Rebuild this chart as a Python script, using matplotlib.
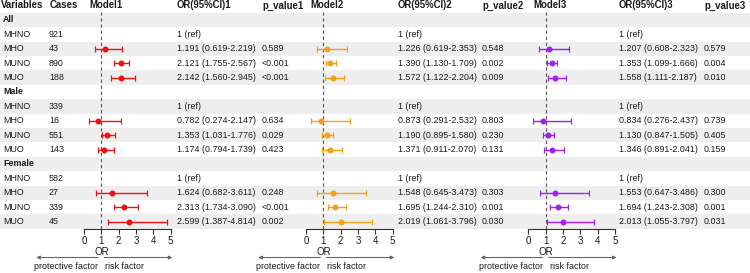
import numpy as np
import matplotlib.pyplot as plt
from matplotlib.transforms import blended_transform_factory

plt.rcParams['font.family'] = ['Liberation Sans', 'DejaVu Sans']

groups = ['All', 'Male', 'Female']
subgroups = ['MHNO', 'MHO', 'MUNO', 'MUO']
cases = [[921, 43, 890, 188], [339, 16, 551, 143], [582, 27, 339, 45]]

# odds ratios per model, group-major; first of each group is the reference
or1 = [[np.nan, 1.191, 2.121, 2.142], [np.nan, 0.782, 1.353, 1.174], [np.nan, 1.624, 2.313, 2.599]]
lo1 = [[np.nan, 0.619, 1.755, 1.560], [np.nan, 0.274, 1.031, 0.794], [np.nan, 0.682, 1.734, 1.387]]
hi1 = [[np.nan, 2.219, 2.567, 2.945], [np.nan, 2.147, 1.776, 1.739], [np.nan, 3.611, 3.090, 4.814]]
p1 = [['', '0.589', '<0.001', '<0.001'], ['', '0.634', '0.029', '0.423'], ['', '0.248', '<0.001', '0.002']]

or2 = [[np.nan, 1.226, 1.390, 1.572], [np.nan, 0.873, 1.190, 1.371], [np.nan, 1.548, 1.695, 2.019]]
lo2 = [[np.nan, 0.619, 1.130, 1.122], [np.nan, 0.291, 0.895, 0.911], [np.nan, 0.645, 1.244, 1.061]]
hi2 = [[np.nan, 2.353, 1.709, 2.204], [np.nan, 2.532, 1.580, 2.070], [np.nan, 3.473, 2.310, 3.796]]
p2 = [['', '0.548', '0.002', '0.009'], ['', '0.803', '0.230', '0.131'], ['', '0.303', '0.001', '0.030']]

or3 = [[np.nan, 1.207, 1.353, 1.558], [np.nan, 0.834, 1.130, 1.346], [np.nan, 1.553, 1.694, 2.013]]
lo3 = [[np.nan, 0.608, 1.099, 1.111], [np.nan, 0.276, 0.847, 0.891], [np.nan, 0.647, 1.243, 1.055]]
hi3 = [[np.nan, 2.323, 1.666, 2.187], [np.nan, 2.437, 1.505, 2.041], [np.nan, 3.486, 2.308, 3.797]]
p3 = [['', '0.579', '0.004', '0.010'], ['', '0.739', '0.405', '0.159'], ['', '0.300', '0.001', '0.031']]

models = [('Model1', or1, lo1, hi1, p1, '#EE1111'),
          ('Model2', or2, lo2, hi2, p2, '#F5A01A'),
          ('Model3', or3, lo3, hi3, p3, '#A020F0')]

W, H = 750, 273
fig = plt.figure(figsize=(W / 100, H / 100), dpi=100)
ax = fig.add_axes([0, 0, 1, 1])
ax.set_xlim(0, W)
ax.set_ylim(H, 0)
ax.axis('off')

fs = 6.4
hfs = 6.9
tc = '#1a1a1a'
row0, rh = 20, 14.4
top, axis_y = 12, 229

# layout of columns (pixels)
panel_left = [84, 306, 528.3]
panel_w = 86.7
or_x = [177, 398, 619]
p_x = [262, 482, 704]
head_x = [89, 310, 533]

# stripes
n_rows = len(groups) * (len(subgroups) + 1)
for i in range(0, n_rows, 2):
    yc = row0 + rh * i
    ax.axhspan(yc - rh / 2, yc + rh / 2, color='#eeeeee', zorder=0, lw=0)

# header
hy = 5.5
ax.text(1, hy, 'Variables', fontsize=hfs, fontweight='bold', va='center', color=tc)
ax.text(50, hy, 'Cases', fontsize=hfs, fontweight='bold', va='center', color=tc)
for k, m in enumerate(models):
    ax.text(head_x[k], hy, m[0], fontsize=hfs, fontweight='bold', va='center', color=tc)
    ax.text(or_x[k], hy, 'OR(95%CI)' + str(k + 1), fontsize=hfs, fontweight='bold', va='center', color=tc)
    ax.text(p_x[k], hy, 'p_value' + str(k + 1), fontsize=hfs, fontweight='bold', va='center', color=tc)

# table rows
row_y = {}
i = 0
for g, grp in enumerate(groups):
    ax.text(3, row0 + rh * i, grp, fontsize=fs, fontweight='bold', va='center', color=tc)
    i += 1
    for s, sub in enumerate(subgroups):
        y = row0 + rh * i
        row_y[(g, s)] = y
        ax.text(3, y, sub, fontsize=fs, va='center', color=tc)
        ax.text(49, y, str(cases[g][s]), fontsize=fs, va='center', color=tc)
        for k, (name, o, lo, hi, p, c) in enumerate(models):
            if np.isnan(o[g][s]):
                txt = '1 (ref)'
            else:
                txt = '%.3f (%.3f-%.3f)' % (o[g][s], lo[g][s], hi[g][s])
            ax.text(or_x[k], y, txt, fontsize=fs, va='center', color=tc)
            ax.text(p_x[k], y, p[g][s], fontsize=fs, va='center', color=tc)
        i += 1

# forest panels
for k, (name, o, lo, hi, p, c) in enumerate(models):
    pax = fig.add_axes([panel_left[k] / W, (H - axis_y) / H, panel_w / W, (axis_y - top) / H])
    pax.set_facecolor('none')
    pax.set_xlim(0, 5)
    pax.set_ylim(axis_y, top)
    ys, est, lows, highs = [], [], [], []
    for g in range(len(groups)):
        for s in range(len(subgroups)):
            if not np.isnan(o[g][s]):
                ys.append(row_y[(g, s)])
                est.append(o[g][s])
                lows.append(lo[g][s])
                highs.append(hi[g][s])
    est = np.array(est)
    pax.errorbar(est, ys, xerr=[est - np.array(lows), np.array(highs) - est], fmt='o',
                 ms=3.3, color=c, ecolor=c, elinewidth=1.0, capsize=2.0, capthick=0.9, zorder=3)
    pax.axvline(1, color='#555555', lw=0.8, ls=(0, (3, 2.5)), zorder=2)
    for sp in ['top', 'right', 'left']:
        pax.spines[sp].set_visible(False)
    pax.spines['bottom'].set_color('#333333')
    pax.spines['bottom'].set_linewidth(0.8)
    pax.set_yticks([])
    pax.set_xticks(range(6))
    pax.tick_params(axis='x', length=3.5, width=0.8, color='#333333', labelsize=7, pad=1.5, labelcolor=tc)

    tr = blended_transform_factory(pax.transData, ax.transData)
    ax.text(1, 252, 'OR', transform=tr, fontsize=7, ha='center', va='center', color=tc)
    ref_px = panel_left[k] + panel_w / 5
    ax.annotate('', xy=(ref_px - 65, 257.5), xytext=(ref_px - 3, 257.5),
                arrowprops=dict(arrowstyle='-|>', color='#666666', lw=0.8, mutation_scale=5,
                                shrinkA=0, shrinkB=0))
    ax.annotate('', xy=(ref_px + 71, 257.5), xytext=(ref_px + 3, 257.5),
                arrowprops=dict(arrowstyle='-|>', color='#666666', lw=0.8, mutation_scale=5,
                                shrinkA=0, shrinkB=0))
    ax.text(ref_px - 3, 266.5, 'protective factor', fontsize=fs, ha='right', va='center', color=tc)
    ax.text(ref_px + 4, 266.5, 'risk factor', fontsize=fs, ha='left', va='center', color=tc)

fig.savefig('out.png', dpi=100)
